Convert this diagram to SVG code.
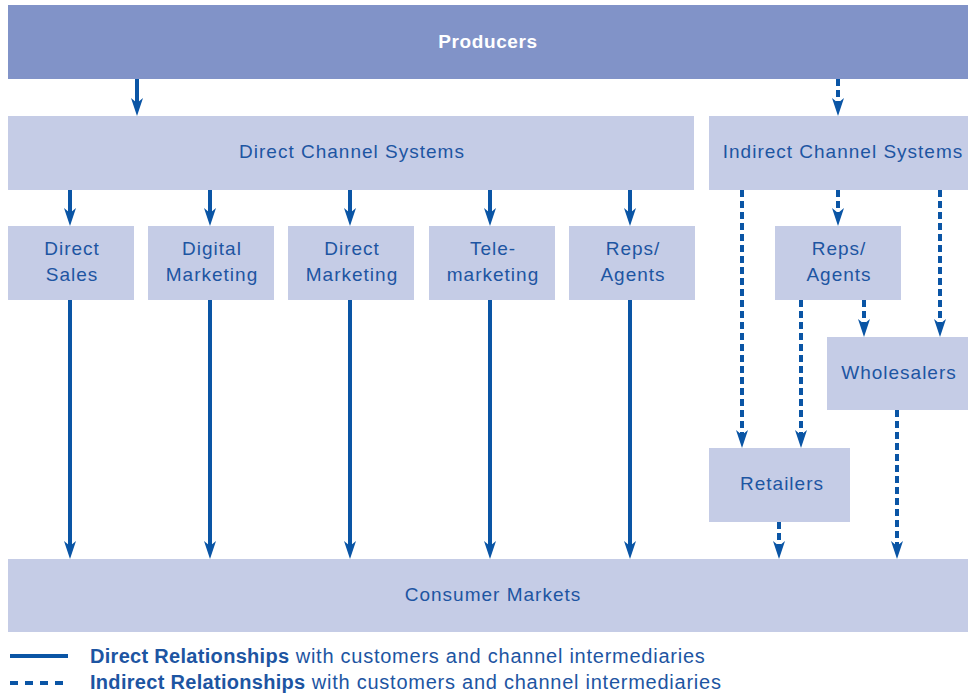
<svg xmlns="http://www.w3.org/2000/svg" width="968" height="694" viewBox="0 0 968 694">
<style>
.box{fill:#c5cce6}
.top{fill:#8193c8}
text{font-family:"Liberation Sans","DejaVu Sans",sans-serif;font-size:19px;fill:#1d55a2;text-anchor:middle;letter-spacing:1px}
.wt{fill:#ffffff;font-weight:bold;letter-spacing:0.6px}
.ln{stroke:#0a55a5;stroke-width:4;fill:none}
.ds{stroke-dasharray:7 4}
.lg{text-anchor:start;font-size:20px;letter-spacing:0.75px}
.b{font-weight:bold;letter-spacing:0.3px}
</style>
<defs>
<marker id="ah" viewBox="0 -6 18 12" refX="10" refY="0" markerWidth="18" markerHeight="12" markerUnits="userSpaceOnUse" orient="auto">
<path d="M0,-6 L18,0 L0,6 L5,0 Z" fill="#0a55a5" stroke="none"/>
</marker>
</defs>
<g id="producers"><rect class="top" x="8" y="5" width="960" height="74"/><text class="wt" x="488" y="48">Producers</text></g>
<g id="direct-channel"><rect class="box" x="8" y="116" width="686" height="74"/><text x="352" y="158">Direct Channel Systems</text></g>
<g id="indirect-channel"><rect class="box" x="709" y="116" width="259" height="74"/><text x="843" y="158">Indirect Channel Systems</text></g>
<g id="direct-sales"><rect class="box" x="8" y="226" width="126" height="74"/><text x="72" y="255">Direct</text><text x="72" y="281">Sales</text></g>
<g id="digital-marketing"><rect class="box" x="148" y="226" width="126" height="74"/><text x="212" y="255">Digital</text><text x="212" y="281">Marketing</text></g>
<g id="direct-marketing"><rect class="box" x="288" y="226" width="126" height="74"/><text x="352" y="255">Direct</text><text x="352" y="281">Marketing</text></g>
<g id="telemarketing"><rect class="box" x="429" y="226" width="126" height="74"/><text x="493" y="255">Tele-</text><text x="493" y="281">marketing</text></g>
<g id="reps-direct"><rect class="box" x="569" y="226" width="126" height="74"/><text x="633" y="255">Reps/</text><text x="633" y="281">Agents</text></g>
<g id="reps-indirect"><rect class="box" x="775" y="226" width="126" height="74"/><text x="839" y="255">Reps/</text><text x="839" y="281">Agents</text></g>
<g id="wholesalers"><rect class="box" x="827" y="337" width="141" height="73"/><text x="899" y="379">Wholesalers</text></g>
<g id="retailers"><rect class="box" x="709" y="448" width="141" height="74"/><text x="782" y="490">Retailers</text></g>
<g id="consumer-markets"><rect class="box" x="8" y="559" width="960" height="73"/><text x="493" y="601">Consumer Markets</text></g>
<g id="connectors">
<line class="ln" x1="137" y1="79" x2="137" y2="108" marker-end="url(#ah)"/>
<line class="ln" x1="70" y1="190" x2="70" y2="218" marker-end="url(#ah)"/>
<line class="ln" x1="210" y1="190" x2="210" y2="218" marker-end="url(#ah)"/>
<line class="ln" x1="350" y1="190" x2="350" y2="218" marker-end="url(#ah)"/>
<line class="ln" x1="490" y1="190" x2="490" y2="218" marker-end="url(#ah)"/>
<line class="ln" x1="630" y1="190" x2="630" y2="218" marker-end="url(#ah)"/>
<line class="ln" x1="70" y1="300" x2="70" y2="551" marker-end="url(#ah)"/>
<line class="ln" x1="210" y1="300" x2="210" y2="551" marker-end="url(#ah)"/>
<line class="ln" x1="350" y1="300" x2="350" y2="551" marker-end="url(#ah)"/>
<line class="ln" x1="490" y1="300" x2="490" y2="551" marker-end="url(#ah)"/>
<line class="ln" x1="630" y1="300" x2="630" y2="551" marker-end="url(#ah)"/>
<line class="ln ds" x1="838" y1="79" x2="838" y2="108" marker-end="url(#ah)"/>
<line class="ln ds" x1="838" y1="190" x2="838" y2="218" marker-end="url(#ah)"/>
<line class="ln ds" x1="742" y1="190" x2="742" y2="440" marker-end="url(#ah)"/>
<line class="ln ds" x1="940" y1="190" x2="940" y2="329" marker-end="url(#ah)"/>
<line class="ln ds" x1="801" y1="300" x2="801" y2="440" marker-end="url(#ah)"/>
<line class="ln ds" x1="864" y1="300" x2="864" y2="329" marker-end="url(#ah)"/>
<line class="ln ds" x1="779" y1="522" x2="779" y2="551" marker-end="url(#ah)"/>
<line class="ln ds" x1="897" y1="410" x2="897" y2="551" marker-end="url(#ah)"/>
</g>
<g id="legend">
<line class="ln" x1="10" y1="656" x2="68" y2="656"/>
<line class="ln" x1="10" y1="683" x2="68" y2="683" stroke-dasharray="8 7"/>
<text class="lg" x="90" y="663"><tspan class="b">Direct Relationships</tspan> with customers and channel intermediaries</text>
<text class="lg" x="90" y="689"><tspan class="b">Indirect Relationships</tspan> with customers and channel intermediaries</text>
</g>
</svg>
